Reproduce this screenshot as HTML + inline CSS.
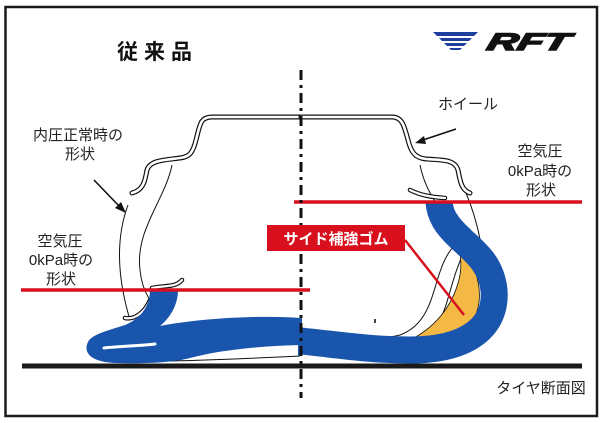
<!DOCTYPE html>
<html><head><meta charset="utf-8"><style>
html,body{margin:0;padding:0;background:#fff;width:605px;height:423px;overflow:hidden}
svg{display:block}
text{font-family:"Liberation Sans","Noto Sans CJK JP",sans-serif}
</style></head><body>
<svg width="605" height="423" viewBox="0 0 605 423" xmlns="http://www.w3.org/2000/svg">
<rect x="5.5" y="7" width="591.5" height="409" fill="#fff" stroke="#1a1a1a" stroke-width="2.5"/>
<text x="117" y="59" font-size="21" font-weight="bold" letter-spacing="6" fill="#111">従来品</text>
<!-- RFT logo -->
<g fill="#1f3f9e">
<path d="M433,32 L478,32 L474,36 L437,36 Z"/>
<path d="M439,38 L472,38 L469,41 L442,41 Z"/>
<path d="M444,43 L467,43 L464,46 L447,46 Z"/>
<path d="M449,48 L462,48 L460,50 L451,50 Z"/>
</g>
<text x="486" y="50" font-size="24" font-weight="900" font-style="italic" fill="#111" textLength="82" lengthAdjust="spacingAndGlyphs" stroke="#111" stroke-width="1.5" transform="skewX(-15) translate(13,0)">RFT</text>

<!-- tire outlines (thin) -->
<g fill="none" stroke="#111" stroke-width="1">
<path d="M172,165 C165,200 135,230 140,270 C142,290 150,305 165,315"/>
<path d="M128,205 C115,240 118,280 130,320"/>
<path d="M420,165 C425,190 440,215 470,240 C480,250 485,260 488,265"/>
<path d="M460,180 C470,200 478,225 482,250"/>
<path d="M455,245 C430,270 440,320 400,335 C380,340 350,340 300,335"/>
<path d="M465,250 C445,290 450,325 420,338"/>
<path d="M170,361 C220,360 260,358 300,356"/>
</g>
<!-- wheel double lines -->
<g fill="none" stroke-linecap="round" stroke-linejoin="round">
<path d="M301,117 L212,117 C200,117 200,125 196,140 C193,152 190,157 180,158 C165,160 150,160 147,170 C145,180 144,190 132,193" stroke="#111" stroke-width="5"/>
<path d="M301,117 L212,117 C200,117 200,125 196,140 C193,152 190,157 180,158 C165,160 150,160 147,170 C145,180 144,190 132,193" stroke="#fff" stroke-width="2.6"/>
<path d="M301,117 L392,117 C402,117 404,125 408,140 C411,152 415,158 426,159 C445,160 455,160 458,170 C460,180 461,190 470,193" stroke="#111" stroke-width="5"/>
<path d="M301,117 L392,117 C402,117 404,125 408,140 C411,152 415,158 426,159 C445,160 455,160 458,170 C460,180 461,190 470,193" stroke="#fff" stroke-width="2.6"/>
<path d="M410,190 C420,195 430,197 445,198 M445,210 C448,225 455,230 468,230 M125,318 C135,320 145,312 150,300 M152,288 C165,285 175,288 182,280" stroke="#111" stroke-width="4.5"/>
<path d="M410,190 C420,195 430,197 445,198 M445,210 C448,225 455,230 468,230 M125,318 C135,320 145,312 150,300 M152,288 C165,285 175,288 182,280" stroke="#fff" stroke-width="2.2"/>
</g>

<!-- yellow crescent -->
<path d="M458,243 C478,265 488,300 470,325 C455,338 430,342 410,340 C440,325 455,300 460,275 C462,262 460,252 458,243 Z" fill="#f4b944" stroke="#111" stroke-width="0.8"/>
<!-- blue -->
<path d="M150,290 L178,290 C178,305 170,318 160,326 C200,318 260,315 301,318 L301,345 C260,346 220,350 190,358 C175,362 150,364 115,363 C90,362 83,352 88,342 C92,334 110,330 125,325 C142,318 150,305 150,290 Z" fill="#1a55ad"/>
<path d="M301,341 C340,345 370,350 410,350 C470,350 497,325 494,290 C491,262 472,250 460,238 C446,225 440,215 439,202" fill="none" stroke="#1a55ad" stroke-width="27"/>
<path d="M300,318 L300,356" stroke="#1a55ad" stroke-width="4"/>
<path d="M104,348 C120,346 140,346 155,344" stroke="#fff" stroke-width="3" fill="none" stroke-linecap="round"/>

<!-- red lines -->
<line x1="21" y1="290" x2="310" y2="290" stroke="#d8101e" stroke-width="3.5"/>
<line x1="294" y1="202" x2="582" y2="202" stroke="#d8101e" stroke-width="3.5"/>
<!-- ground -->
<line x1="22" y1="366" x2="582" y2="366" stroke="#1a1a1a" stroke-width="5"/>
<!-- centerline -->
<line x1="301" y1="70" x2="301" y2="398" stroke="#111" stroke-width="3" stroke-dasharray="10,5,3,5"/>
<rect x="374" y="319" width="2" height="4" fill="#444"/>

<!-- arrows -->
<g stroke="#111" stroke-width="1.6" fill="#111">
<line x1="94" y1="180" x2="120" y2="207"/>
<path d="M126,213 L115,208 L121,202 Z" stroke="none"/>
<line x1="456" y1="129" x2="420" y2="141"/>
<path d="M415,143 L424,136 L426,144 Z" stroke="none"/>
</g>
<!-- label box -->
<line x1="405" y1="240" x2="464" y2="315" stroke="#d8101e" stroke-width="2.5"/>
<rect x="267" y="225" width="138" height="26" fill="#d8101e"/>
<text x="336" y="244" font-size="15" font-weight="bold" fill="#fff" text-anchor="middle">サイド補強ゴム</text>

<g font-size="15" fill="#222" text-anchor="middle">
<text x="78" y="140">内圧正常時の</text>
<text x="80" y="159">形状</text>
<text x="60" y="246">空気圧</text>
<text x="61" y="265">0kPa時の</text>
<text x="61" y="284">形状</text>
<text x="468" y="109">ホイール</text>
<text x="540" y="156">空気圧</text>
<text x="540" y="176">0kPa時の</text>
<text x="541" y="195">形状</text>
<text x="541" y="393">タイヤ断面図</text>
</g>
</svg>
</body></html>
